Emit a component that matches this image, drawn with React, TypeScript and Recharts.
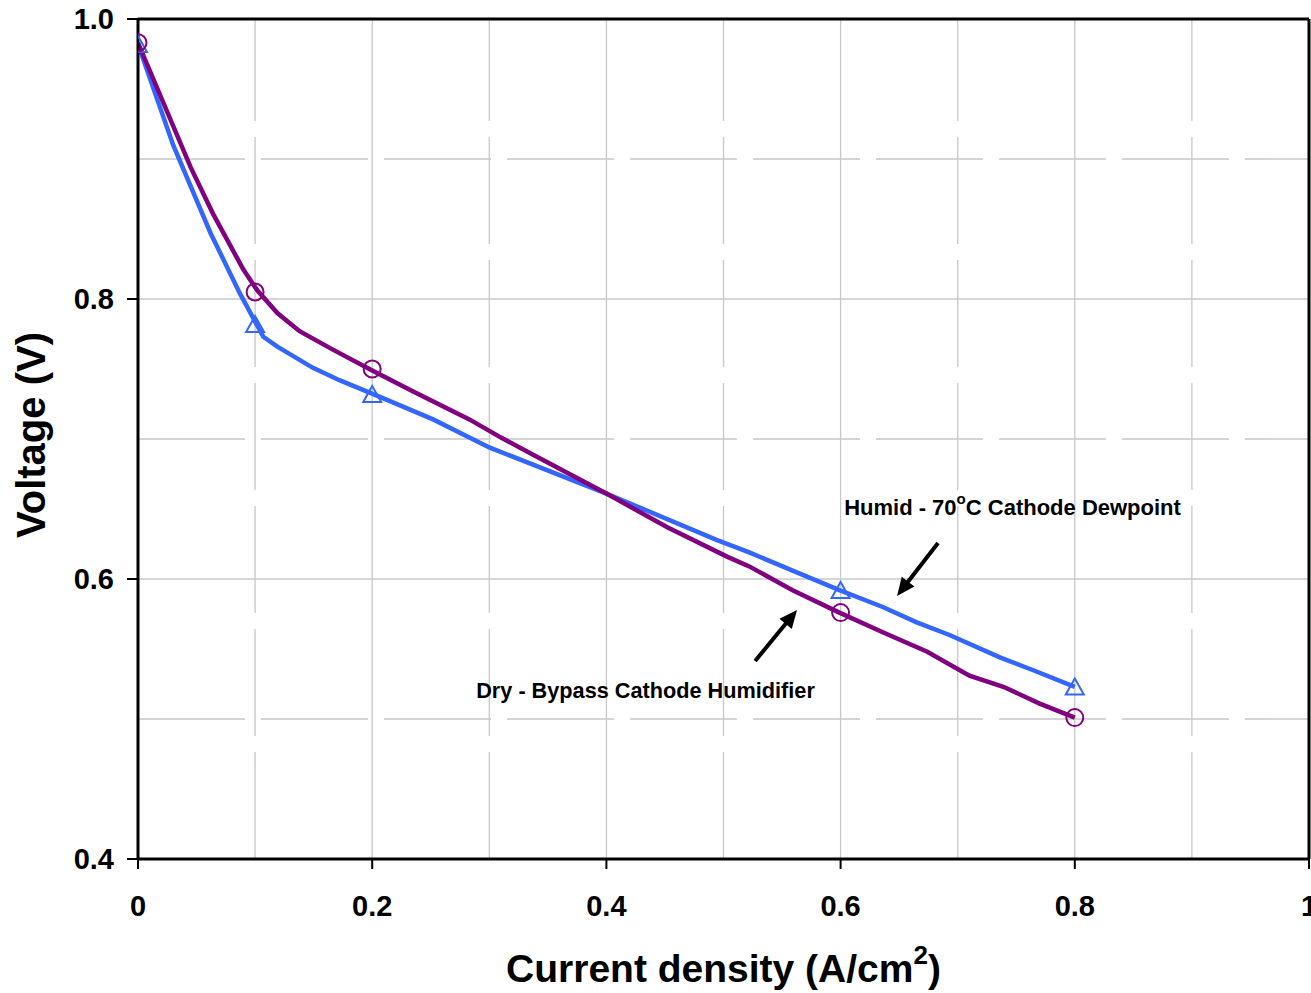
import React from "react";
import {
  ComposedChart,
  Line,
  Scatter,
  XAxis,
  YAxis,
  ReferenceLine,
  ReferenceDot,
} from "recharts";

// Dry - Bypass Cathode Humidifier (fitted curve)
const dryCurrent = [0, 0.045, 0.064, 0.09, 0.102, 0.119, 0.138, 0.166, 0.2, 0.235, 0.283, 0.31, 0.337, 0.4, 0.452, 0.503, 0.522, 0.559, 0.599, 0.636, 0.674, 0.71, 0.739, 0.77, 0.8];
const dryVoltage = [0.983, 0.894, 0.861, 0.821, 0.806, 0.79, 0.777, 0.764, 0.749, 0.734, 0.714, 0.701, 0.689, 0.661, 0.637, 0.616, 0.609, 0.592, 0.576, 0.562, 0.548, 0.531, 0.523, 0.511, 0.501];

// Humid - 70C cathode dewpoint (fitted curve)
const humidCurrent = [0, 0.03, 0.062, 0.087, 0.107, 0.119, 0.149, 0.172, 0.204, 0.252, 0.3, 0.4, 0.494, 0.522, 0.559, 0.599, 0.636, 0.665, 0.693, 0.736, 0.764, 0.8];
const humidVoltage = [0.982, 0.91, 0.847, 0.804, 0.773, 0.766, 0.751, 0.742, 0.731, 0.714, 0.694, 0.661, 0.628, 0.619, 0.606, 0.592, 0.58, 0.569, 0.56, 0.544, 0.535, 0.523];

// Measured points (markers)
const measuredCurrent = [0, 0.1, 0.2, 0.6, 0.8];
const dryMeasured = [0.983, 0.805, 0.75, 0.576, 0.501];
const humidMeasured = [0.981, 0.781, 0.731, 0.591, 0.522];

const xTicks = [0, 0.2, 0.4, 0.6, 0.8, 1];
const yTicks = [0.4, 0.6, 0.8, 1.0];
const xGrid = [0.1, 0.2, 0.3, 0.4, 0.5, 0.6, 0.7, 0.8, 0.9];
const yGrid = [0.5, 0.6, 0.7, 0.8, 0.9];

const dryData = dryCurrent.map((x, i) => ({ x, y: dryVoltage[i] }));
const humidData = humidCurrent.map((x, i) => ({ x, y: humidVoltage[i] }));
const dryPts = measuredCurrent.map((x, i) => ({ x, y: dryMeasured[i] }));
const humidPts = measuredCurrent.map((x, i) => ({ x, y: humidMeasured[i] }));

const FONT = "'Liberation Sans', Arial, Helvetica, sans-serif";
const BLUE = "#3366ff";
const PURPLE = "#800080";
const GRID = "#c8c8c8";

const isMajor = (v: number) => Math.abs(Math.round(v * 10) % 2) === 0;

const Circle = (p: any) => (
  <circle cx={p.cx} cy={p.cy} r={8.5} fill="none" stroke={PURPLE} strokeWidth={2} />
);
const Triangle = (p: any) => {
  const { cx, cy } = p;
  const h = 16;
  const w = 18;
  return (
    <polygon
      points={`${cx},${cy - h * 0.6} ${cx - w / 2},${cy + h * 0.4} ${cx + w / 2},${cy + h * 0.4}`}
      fill="none"
      stroke={BLUE}
      strokeWidth={2}
    />
  );
};

const Arrow = (p: any) => {
  const { x1, y1, x2, y2 } = p;
  const dx = x2 - x1;
  const dy = y2 - y1;
  const len = Math.sqrt(dx * dx + dy * dy) || 1;
  const ux = dx / len;
  const uy = dy / len;
  const L = 18;
  const W = 8;
  const bx = x2 - ux * L;
  const by = y2 - uy * L;
  return (
    <g>
      <line x1={x1} y1={y1} x2={bx + ux * 2} y2={by + uy * 2} stroke="#000" strokeWidth={4} />
      <polygon
        points={`${x2},${y2} ${bx - uy * W},${by + ux * W} ${bx + uy * W},${by - ux * W}`}
        fill="#000"
      />
    </g>
  );
};

const HumidText = (p: any) => (
  <text
    x={p.cx}
    y={p.cy}
    textAnchor="middle"
    dominantBaseline="central"
    fontFamily={FONT}
    fontWeight="bold"
    fontSize={22}
    fill="#000"
  >
    Humid - 70
    <tspan fontSize={15} dy={-9}>o</tspan>
    <tspan dy={9}>C Cathode Dewpoint</tspan>
  </text>
);

const DryText = (p: any) => (
  <text
    x={p.cx}
    y={p.cy}
    textAnchor="middle"
    dominantBaseline="central"
    fontFamily={FONT}
    fontWeight="bold"
    fontSize={21.7}
    fill="#000"
  >
    Dry - Bypass Cathode Humidifier
  </text>
);

const XTitle = (p: any) => {
  const vb = p.viewBox || {};
  return (
    <text
      x={vb.x + vb.width / 2}
      y={vb.y + 123}
      textAnchor="middle"
      fontFamily={FONT}
      fontWeight="bold"
      fontSize={39}
      fill="#000"
    >
      Current density (A/cm
      <tspan fontSize={26} dy={-18}>2</tspan>
      <tspan dy={18}>)</tspan>
    </text>
  );
};

const YTitle = (p: any) => {
  const vb = p.viewBox || {};
  const cx = 31;
  const cy = vb.y + vb.height / 2 - 4;
  return (
    <text
      x={cx}
      y={cy}
      transform={`rotate(-90, ${cx}, ${cy})`}
      textAnchor="middle"
      dominantBaseline="central"
      fontFamily={FONT}
      fontWeight="bold"
      fontSize={40}
      fill="#000"
    >
      Voltage (V)
    </text>
  );
};

const fmtX = (v: number) => (v === 0 ? "0" : v === 1 ? "1" : v.toFixed(1));
const fmtY = (v: number) => v.toFixed(1);

export default function App() {
  return (
    <div style={{ position: "absolute", left: 0, top: 0, width: 1311, height: 993, background: "#fff" }}>
      <ComposedChart
        width={1311}
        height={993}
        margin={{ top: 19, right: 2, bottom: 0, left: 0 }}
        style={{ fontFamily: FONT }}
      >
        <XAxis
          dataKey="x"
          type="number"
          domain={[0, 1]}
          ticks={xTicks}
          tickFormatter={fmtX}
          height={134}
          axisLine={{ stroke: "#000", strokeWidth: 3 }}
          tickLine={{ stroke: "#000", strokeWidth: 2 }}
          tickSize={10}
          tickMargin={26}
          tick={{ fill: "#000", fontSize: 29, fontWeight: "bold", fontFamily: FONT }}
          interval={0}
          allowDataOverflow
          label={<XTitle />}
        />
        <YAxis
          dataKey="y"
          type="number"
          domain={[0.4, 1.0]}
          ticks={yTicks}
          tickFormatter={fmtY}
          width={138}
          axisLine={{ stroke: "#000", strokeWidth: 3 }}
          tickLine={{ stroke: "#000", strokeWidth: 2 }}
          tickSize={11}
          tickMargin={13}
          tick={{ fill: "#000", fontSize: 29, fontWeight: "bold", fontFamily: FONT }}
          interval={0}
          allowDataOverflow
          label={<YTitle />}
        />
        {xGrid.map((v) => (
          <ReferenceLine
            key={"gx" + v}
            x={v}
            stroke={GRID}
            strokeWidth={1.3}
            strokeDasharray={isMajor(v) ? undefined : "107 16"}
          />
        ))}
        {yGrid.map((v) => (
          <ReferenceLine
            key={"gy" + v}
            y={v}
            stroke={GRID}
            strokeWidth={1.3}
            strokeDasharray={isMajor(v) ? undefined : "107 16"}
          />
        ))}
        <ReferenceLine y={1.0} stroke="#000" strokeWidth={3} />
        <ReferenceLine x={1.0} stroke="#000" strokeWidth={3} />
        <Line
          data={humidData}
          dataKey="y"
          type="linear"
          stroke={BLUE}
          strokeWidth={4.5}
          dot={false}
          activeDot={false}
          isAnimationActive={false}
        />
        <Line
          data={dryData}
          dataKey="y"
          type="linear"
          stroke={PURPLE}
          strokeWidth={4.5}
          dot={false}
          activeDot={false}
          isAnimationActive={false}
        />
        <Scatter data={humidPts} dataKey="y" shape={<Triangle />} isAnimationActive={false} />
        <Scatter data={dryPts} dataKey="y" shape={<Circle />} isAnimationActive={false} />
        <ReferenceLine
          segment={[{ x: 0.6832, y: 0.6257 }, { x: 0.6482, y: 0.5879 }]}
          shape={<Arrow />}
        />
        <ReferenceLine
          segment={[{ x: 0.527, y: 0.5414 }, { x: 0.5628, y: 0.5779 }]}
          shape={<Arrow />}
        />
        <ReferenceDot x={0.7468} y={0.6514} r={0} shape={<HumidText />} />
        <ReferenceDot x={0.4334} y={0.5207} r={0} shape={<DryText />} />
      </ComposedChart>
    </div>
  );
}
